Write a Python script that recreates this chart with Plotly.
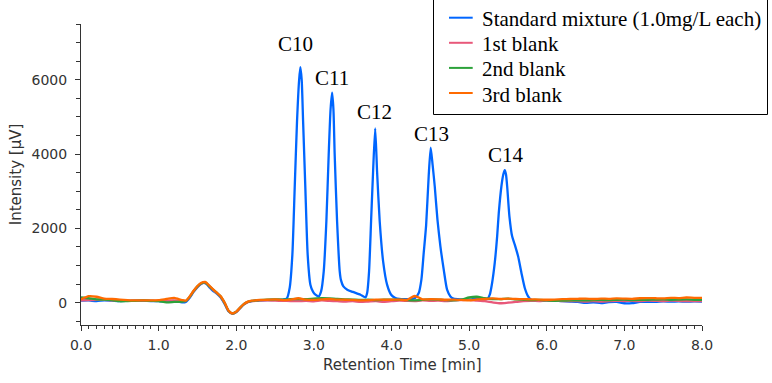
import plotly.graph_objects as go

# ---------------- data ----------------
series_names = ["Standard mixture (1.0mg/L each)", "1st blank", "2nd blank", "3rd blank"]
series_colors = ["#0066ff", "#e8587a", "#2ca23a", "#ff6a00"]

std_time = [0.0, 0.1, 0.2, 0.3, 0.4, 0.5, 0.6, 0.7, 0.8, 0.9, 1.0, 1.1, 1.2, 1.3, 1.35,
            1.40, 1.45, 1.50, 1.55, 1.58, 1.62, 1.66, 1.70, 1.75, 1.80, 1.85, 1.90, 1.95,
            2.00, 2.05, 2.10, 2.15, 2.20, 2.3, 2.4, 2.5, 2.6, 2.65,
            2.688, 2.723, 2.753, 2.783, 2.81, 2.826, 2.843, 2.861, 2.89, 2.92, 2.955, 2.99, 3.02, 3.062,
            3.093, 3.127, 3.161, 3.191, 3.215, 3.235, 3.252, 3.268, 3.299, 3.333, 3.35, 3.38, 3.43, 3.5, 3.6, 3.664,
            3.686, 3.711, 3.737, 3.763, 3.79, 3.814, 3.848, 3.892, 3.943, 3.995, 4.05, 4.1, 4.2, 4.3,
            4.351, 4.385, 4.415, 4.446, 4.479, 4.505, 4.53, 4.557, 4.592, 4.63, 4.673, 4.716, 4.759,
            4.8, 4.9, 5.0, 5.1, 5.2,
            5.24, 5.266, 5.296, 5.33, 5.361, 5.382, 5.416, 5.44, 5.459, 5.475, 5.49, 5.519, 5.554,
            5.588, 5.631, 5.674, 5.717, 5.76, 5.8, 5.9, 6.0, 6.1, 6.2, 6.3, 6.4, 6.5, 6.6, 6.7,
            6.8, 6.9, 7.0, 7.1, 7.2, 7.3, 7.4, 7.5, 7.6, 7.7, 7.8, 7.9, 8.0]
std_signal = [55, 60, 40, 65, 55, 45, 50, 55, 50, 45, 40, 35, 45, 10, 20,
              130, 290, 420, 510, 535, 500, 400, 320, 245, 140, -30, -230, -290,
              -250, -140, -40, 20, 45, 60, 70, 75, 85, 110,
              396, 1294, 3091, 4886, 6000, 6342, 6000, 4886, 3091, 1294, 485, 290, 215, 170,
              305, 844, 2191, 3989, 5200, 5652, 5200, 3989, 2191, 844, 600, 440, 350, 290, 215, 143,
              260, 844, 2191, 3539, 4690, 3539, 2191, 1113, 485, 215, 127, 100, 95, 120,
              260, 620, 1340, 2083, 3404, 4170, 3700, 3134, 2237, 1517, 890, 350, 170,
              110, 90, 80, 110, 90,
              110, 215, 531, 1070, 1787, 2417, 3134, 3450, 3566, 3450, 3134, 2326, 1787,
              1563, 1248, 800, 396, 170, 80, 65, 60, 55, 40, 30, 20, -5, 10, -10,
              15, 20, -15, -10, 20, 25, 20, 35, 30, 35, 30, 35, 30]

blank_time = [0.0, 0.1, 0.2, 0.3, 0.4, 0.5, 0.6, 0.7, 0.8, 0.9, 1.0, 1.1, 1.2, 1.3,
              1.35, 1.40, 1.45, 1.50, 1.55, 1.60, 1.65, 1.70, 1.75, 1.80,
              1.85, 1.90, 1.95, 2.00, 2.05, 2.10, 2.15, 2.20, 2.25, 2.30,
              2.4, 2.5, 2.6, 2.7, 2.8, 2.9, 3.0, 3.1, 3.2, 3.3, 3.4, 3.5, 3.6, 3.7, 3.8, 3.9,
              4.0, 4.1, 4.2, 4.3, 4.4, 4.5, 4.6, 4.7, 4.8, 4.9, 5.0, 5.1, 5.2, 5.3, 5.4, 5.5,
              5.6, 5.7, 5.8, 5.9, 6.0, 6.1, 6.2, 6.3, 6.4, 6.5, 6.6, 6.7, 6.8, 6.9, 7.0, 7.1,
              7.2, 7.3, 7.4, 7.5, 7.6, 7.7, 7.8, 7.9, 8.0]
blank1_signal = [60, 70, 80, 75, 60, 55, 50, 55, 60, 55, 50, 55, 60, 50,
                 45, 150, 300, 425, 515, 540, 445, 345, 255, 155,
                 -15, -225, -300, -255, -145, -45, 15, 40, 50, 55,
                 60, 55, 50, 45, 40, 50, 35, 60, 50, 40, 30, 40, 20, 30, 40, 25,
                 40, 55, 50, 45, 60, 50, 55, 40, 60, 70, 80, 55, 40, 10, -15, 0,
                 20, 40, 50, 45, 55, 50, 45, 40, 45, 30, 40, 30, 40, 50, 45, 50,
                 40, 55, 50, 45, 55, 50, 40, 45, 40]
blank2_signal = [140, 120, 90, 85, 70, 40, 45, 50, 60, 50, 40, 10, 20, 30,
                 45, 160, 310, 440, 525, 545, 455, 355, 265, 165,
                 -5, -215, -290, -245, -135, -35, 25, 50, 60, 70,
                 85, 90, 85, 95, 100, 95, 110, 120, 115, 100, 90, 85, 75, 80, 70, 80,
                 85, 80, 70, 65, 75, 90, 85, 70, 60, 80, 140, 160, 120, 100, 95, 110,
                 90, 80, 70, 75, 60, 50, 55, 60, 65, 60, 70, 75, 70, 80, 85, 70,
                 75, 80, 85, 90, 80, 85, 90, 80, 75]
blank3_signal = [90, 175, 160, 110, 100, 85, 70, 60, 65, 60, 70, 100, 130, 70,
                 55, 170, 320, 450, 535, 560, 465, 365, 270, 175,
                 5, -210, -285, -240, -130, -30, 30, 55, 65, 75,
                 80, 90, 70, 85, 120, 80, 75, 90, 100, 85, 80, 75, 65, 70, 85, 80,
                 80, 85, 75, 180, 90, 95, 90, 80, 85, 75, 60, 90, 100, 115, 100, 110,
                 100, 95, 90, 85, 80, 85, 95, 100, 105, 110, 100, 110, 105, 115, 110, 105,
                 120, 125, 120, 115, 130, 125, 140, 130, 130]

peak_labels = ["C10", "C11", "C12", "C13", "C14"]
label_time = [2.757, 3.237, 3.775, 4.518, 5.471]
label_signal = [6954, 6039, 5140, 4540, 3975]

x_title = "Retention Time [min]"
y_title = "Intensity [µV]"
x_range = [0.0, 8.0]
y_range = [-600, 7500]

# ---------------- figure ----------------
W, H = 772, 383
ML, MR, MT, MB = 81, 70, 24, 58
PW, PH = W - ML - MR, H - MT - MB


def fx(px):
    return (px - ML) / PW


def fy(py):
    return (H - MB - py) / PH


fig = go.Figure()
traces = [(std_time, std_signal), (blank_time, blank1_signal),
          (blank_time, blank2_signal), (blank_time, blank3_signal)]
for (t, s), name, color in zip(traces, series_names, series_colors):
    fig.add_trace(go.Scatter(x=t, y=s, mode="lines", name=name, showlegend=False,
                             line=dict(color=color, width=2.3, shape="spline", smoothing=0.6)))

tick_font = dict(family="DejaVu Sans", size=14, color="#333333")
title_font = dict(family="DejaVu Sans", size=15, color="#333333")
serif = "Liberation Serif, Times New Roman, serif"

for lab, t, s in zip(peak_labels, label_time, label_signal):
    fig.add_annotation(x=t, y=s, text=lab, showarrow=False, xanchor="center", yanchor="middle",
                       font=dict(family=serif, size=21, color="#000000"))

# x-axis title (placed where the reference centres it)
fig.add_annotation(x=fx(402.5), y=fy(365), xref="paper", yref="paper", text=x_title,
                   showarrow=False, xanchor="center", yanchor="middle", font=title_font)

# legend box (drawn like the reference)
shapes = [dict(type="rect", xref="paper", yref="paper", layer="above",
               x0=fx(433.5), x1=fx(767.5), y0=fy(114.5), y1=fy(-0.5),
               line=dict(color="#000000", width=1), fillcolor="#ffffff")]
for i, (name, color) in enumerate(zip(series_names, series_colors)):
    ly = 17.7 + i * 25.1
    shapes.append(dict(type="line", xref="paper", yref="paper", layer="above",
                       x0=fx(449), x1=fx(472.7), y0=fy(ly), y1=fy(ly),
                       line=dict(color=color, width=2)))
    fig.add_annotation(x=fx(480), y=fy(ly + 1.5), xref="paper", yref="paper", text=name,
                       showarrow=False, xanchor="left", yanchor="middle",
                       font=dict(family=serif, size=21, color="#000000"))

fig.update_layout(
    width=W, height=H, autosize=False,
    margin=dict(l=ML, r=MR, t=MT, b=MB, pad=0),
    paper_bgcolor="#ffffff", plot_bgcolor="#ffffff",
    showlegend=False,
    shapes=shapes,
    xaxis=dict(range=x_range, showgrid=False, zeroline=False, showline=True,
               linecolor="#333333", linewidth=1, ticks="outside", ticklen=5, tickcolor="#333333",
               dtick=1, tick0=0, tickformat=".1f", tickfont=tick_font, ticklabelstandoff=2,
               minor=dict(dtick=0.1, ticks="outside", ticklen=3, tickcolor="#333333")),
    yaxis=dict(range=y_range, showgrid=False, zeroline=False, showline=True,
               linecolor="#333333", linewidth=1, ticks="outside", ticklen=5, tickcolor="#333333",
               dtick=2000, tick0=0, tickfont=tick_font, ticklabelstandoff=5,
               minor=dict(dtick=500, ticks="outside", ticklen=4, tickcolor="#333333"),
               title=dict(text=y_title, font=title_font, standoff=6)),
)

fig.write_html("out.html", config={"displayModeBar": False},
               post_script="document.body.style.margin='0px';")
